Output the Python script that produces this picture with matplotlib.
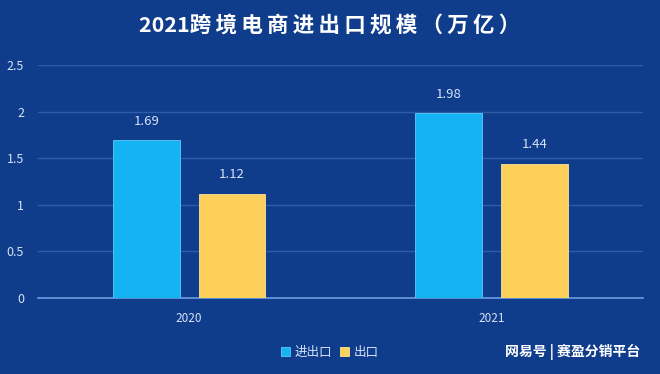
import matplotlib
matplotlib.use('Agg')
import matplotlib.pyplot as plt
import numpy as np

plt.rcParams['font.family'] = ['Noto Sans CJK SC', 'DejaVu Sans']

years = ['2020', '2021']
series_names = ['进出口', '出口']
total = [1.69, 1.98]
export = [1.12, 1.44]
yticks = [0, 0.5, 1, 1.5, 2, 2.5]
ytick_labels = ['0', '0.5', '1', '1.5', '2', '2.5']
title = '2021跨境电商进出口规模（万亿）'

bg = '#0f3d8c'
cyan = '#14b4f4'
yellow = '#fdd05c'
text_col = '#d6e2f5'

fig = plt.figure(figsize=(6.6, 3.74), dpi=100, facecolor=bg)
ax = fig.add_axes([0.0576, 0.2032, 0.9164, 0.6230], facecolor=bg)

x = np.arange(len(years))
w = 0.22
off = 0.142
b1 = ax.bar(x - off, total, w, color=cyan, edgecolor='#5fcaf8', linewidth=0.6, label=series_names[0], zorder=3)
b2 = ax.bar(x + off, export, w, color=yellow, edgecolor='#fde39a', linewidth=0.6, label=series_names[1], zorder=3)

for bars in (b1, b2):
    for r in bars:
        ax.annotate('%.2f' % r.get_height(), (r.get_x() + r.get_width() / 2, r.get_height()),
                    xytext=(0, 9), textcoords='offset points', ha='center', va='bottom',
                    color=text_col, fontsize=9.5)

ax.set_xlim(-0.5, 1.5)
ax.set_ylim(0, 2.5)
ax.set_yticks(yticks)
ax.set_yticklabels(ytick_labels)
ax.set_xticks(x)
ax.set_xticklabels(years)
ax.tick_params(axis='both', length=0, colors=text_col, labelsize=9)
ax.tick_params(axis='x', pad=10, labelsize=8.5)
ax.tick_params(axis='y', pad=10)
ax.yaxis.grid(True, color='#2e5da8', linewidth=1, zorder=0)
for s in ['top', 'right', 'left']:
    ax.spines[s].set_visible(False)
ax.spines['bottom'].set_color('#6b9be0')
ax.spines['bottom'].set_linewidth(1.2)

# letter-spaced title like the original
spaced = title[:4] + '\u2009'.join(title[4:])
fig.text(0.5, 0.933, spaced, ha='center', va='center',
         color='white', fontsize=15.5, fontweight='bold')

fig.legend(loc='center', bbox_to_anchor=(0.5, 0.058), ncol=2, frameon=False,
           fontsize=9, labelcolor=text_col, handlelength=0.7, handleheight=0.7,
           handletextpad=0.4, columnspacing=0.6)

fig.text(0.97, 0.06, '网易号 | 赛盈分销平台', ha='right', va='center',
         color='white', fontsize=10, fontweight='bold')

fig.savefig('out.png', dpi=100, facecolor=bg)
